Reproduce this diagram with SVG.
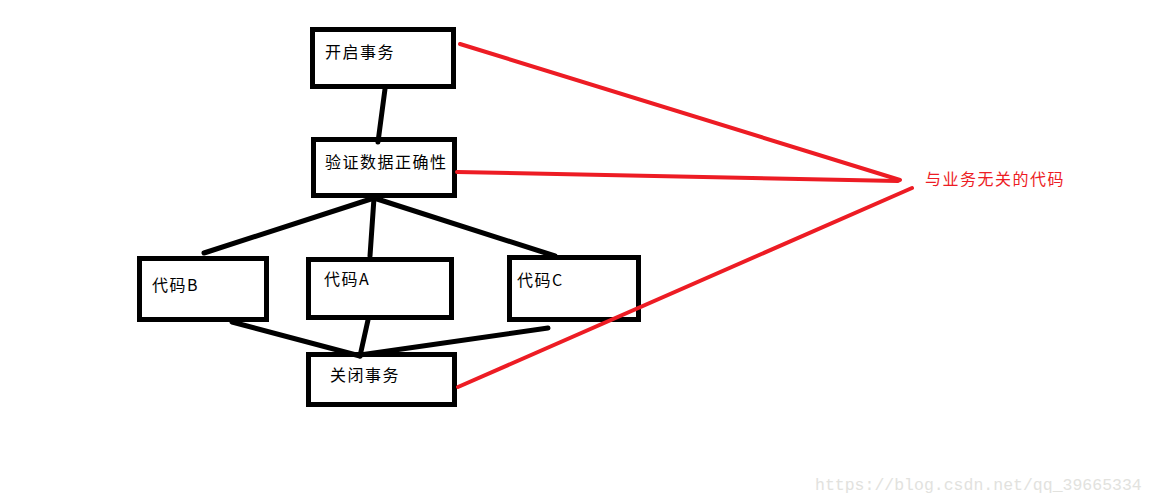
<svg xmlns="http://www.w3.org/2000/svg" width="1157" height="503" viewBox="0 0 1157 503">
<style>
.box{fill:none;stroke:#000;stroke-width:5}
.t{font-family:"Noto Sans CJK SC","Liberation Sans",sans-serif;font-size:16px;fill:#000;letter-spacing:1.5px}
.blk{stroke:#000;stroke-width:5;stroke-linecap:round;fill:none}
.red{stroke:#ed1c24;stroke-width:4;stroke-linecap:round;fill:none}
</style>
<rect width="1157" height="503" fill="#fff"/>
<g id="connectors">
<line class="blk" x1="385" y1="89" x2="378" y2="142"/>
<line class="blk" x1="374" y1="198" x2="204" y2="253"/>
<line class="blk" x1="374" y1="198" x2="370" y2="256"/>
<line class="blk" x1="374" y1="198" x2="555" y2="256"/>
<line class="blk" x1="232" y1="322" x2="360" y2="356"/>
<line class="blk" x1="368" y1="320" x2="360" y2="356"/>
<line class="blk" x1="548" y1="328" x2="360" y2="355"/>
</g>
<g id="n_open"><rect class="box" x="312.5" y="29.5" width="141" height="57"/><text class="t" x="325" y="58">开启事务</text></g>
<g id="n_verify"><rect class="box" x="313.5" y="139.5" width="141" height="56"/><text class="t" x="325" y="168">验证数据正确性</text></g>
<g id="n_b"><rect class="box" x="139.5" y="258.5" width="127" height="61"/><text class="t" x="152" y="291">代码B</text></g>
<g id="n_a"><rect class="box" x="308.5" y="259.5" width="143" height="58"/><text class="t" x="324" y="285">代码A</text></g>
<g id="n_c"><rect class="box" x="509.5" y="257.5" width="129" height="62"/><text class="t" x="517" y="286">代码C</text></g>
<g id="n_close"><rect class="box" x="308.5" y="354.5" width="146" height="50"/><text class="t" x="330" y="381">关闭事务</text></g>
<g id="n_label"><text class="t" x="925" y="185" style="fill:#ed1c24">与业务无关的代码</text></g>
<g id="connectors_red">
<line class="red" x1="460" y1="44" x2="900" y2="180"/>
<line class="red" x1="457" y1="172" x2="898" y2="181"/>
<line class="red" x1="458" y1="387" x2="912" y2="188"/>
</g>
<text x="815" y="490" style="font-family:'Liberation Mono',monospace;font-size:16.5px;fill:#e2e2de">https://blog.csdn.net/qq_39665334</text>
</svg>
